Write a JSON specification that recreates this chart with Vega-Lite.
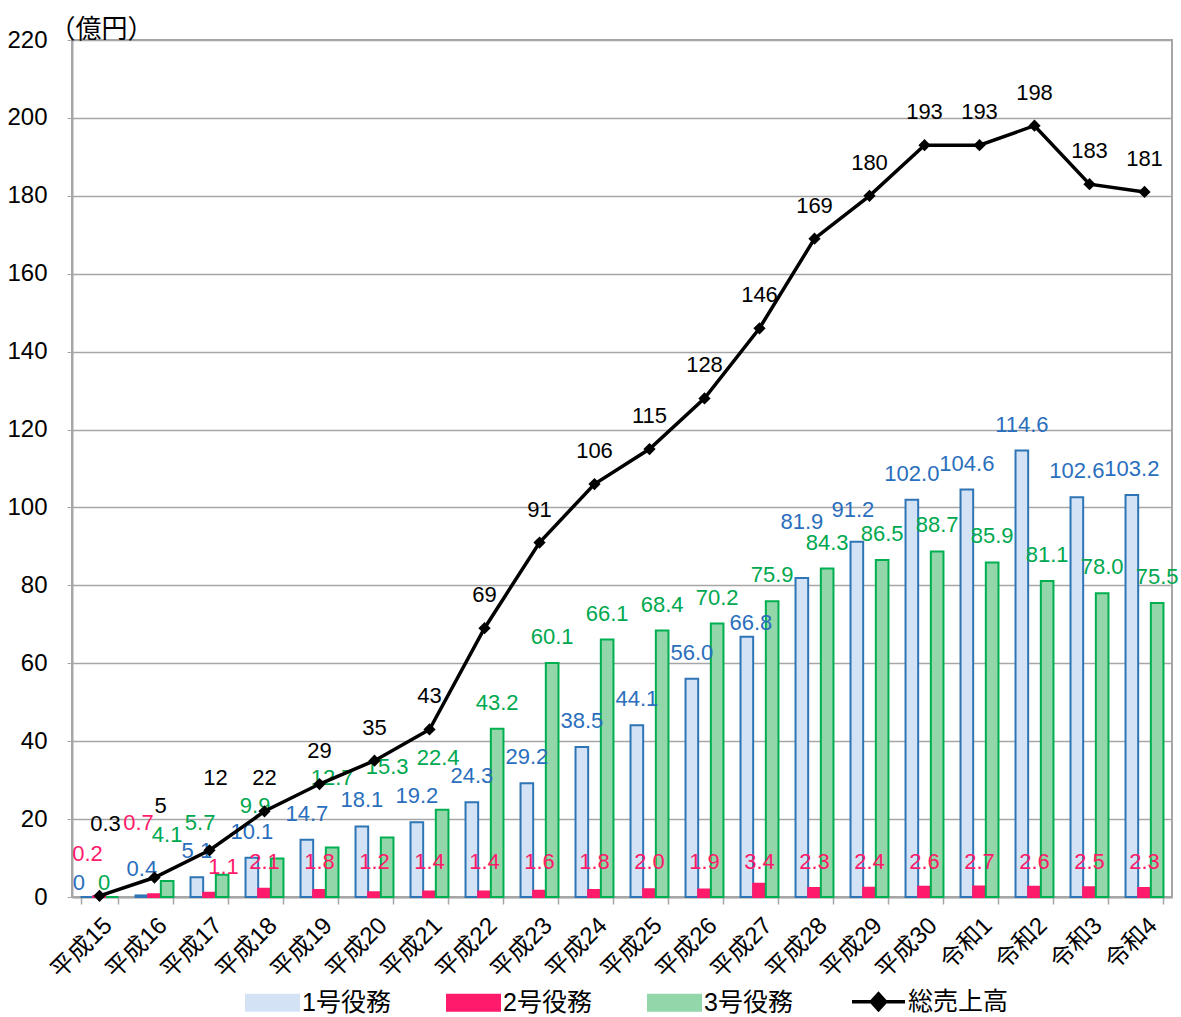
{
  "$schema": "https://vega.github.io/schema/vega-lite/v6.json",
  "width": 1100,
  "height": 857,
  "autosize": {"type": "none"},
  "padding": {"left": 72, "top": 40, "right": 9, "bottom": 120},
  "background": "white",
  "config": {
    "view": {"stroke": "#a6a6a6", "strokeWidth": 2},
    "font": "Liberation Sans, Noto Sans CJK JP",
    "text": {"fontSize": 22}
  },
  "datasets": {
    "bars": [
      {"year": "平成15", "series": "1号役務", "v": 0},
      {"year": "平成16", "series": "1号役務", "v": 0.4},
      {"year": "平成17", "series": "1号役務", "v": 5.1},
      {"year": "平成18", "series": "1号役務", "v": 10.1},
      {"year": "平成19", "series": "1号役務", "v": 14.7},
      {"year": "平成20", "series": "1号役務", "v": 18.1},
      {"year": "平成21", "series": "1号役務", "v": 19.2},
      {"year": "平成22", "series": "1号役務", "v": 24.3},
      {"year": "平成23", "series": "1号役務", "v": 29.2},
      {"year": "平成24", "series": "1号役務", "v": 38.5},
      {"year": "平成25", "series": "1号役務", "v": 44.1},
      {"year": "平成26", "series": "1号役務", "v": 56.0},
      {"year": "平成27", "series": "1号役務", "v": 66.8},
      {"year": "平成28", "series": "1号役務", "v": 81.9},
      {"year": "平成29", "series": "1号役務", "v": 91.2},
      {"year": "平成30", "series": "1号役務", "v": 102.0},
      {"year": "令和1", "series": "1号役務", "v": 104.6},
      {"year": "令和2", "series": "1号役務", "v": 114.6},
      {"year": "令和3", "series": "1号役務", "v": 102.6},
      {"year": "令和4", "series": "1号役務", "v": 103.2},
      {"year": "平成15", "series": "2号役務", "v": 0.2},
      {"year": "平成16", "series": "2号役務", "v": 0.7},
      {"year": "平成17", "series": "2号役務", "v": 1.1},
      {"year": "平成18", "series": "2号役務", "v": 2.1},
      {"year": "平成19", "series": "2号役務", "v": 1.8},
      {"year": "平成20", "series": "2号役務", "v": 1.2},
      {"year": "平成21", "series": "2号役務", "v": 1.4},
      {"year": "平成22", "series": "2号役務", "v": 1.4},
      {"year": "平成23", "series": "2号役務", "v": 1.6},
      {"year": "平成24", "series": "2号役務", "v": 1.8},
      {"year": "平成25", "series": "2号役務", "v": 2.0},
      {"year": "平成26", "series": "2号役務", "v": 1.9},
      {"year": "平成27", "series": "2号役務", "v": 3.4},
      {"year": "平成28", "series": "2号役務", "v": 2.3},
      {"year": "平成29", "series": "2号役務", "v": 2.4},
      {"year": "平成30", "series": "2号役務", "v": 2.6},
      {"year": "令和1", "series": "2号役務", "v": 2.7},
      {"year": "令和2", "series": "2号役務", "v": 2.6},
      {"year": "令和3", "series": "2号役務", "v": 2.5},
      {"year": "令和4", "series": "2号役務", "v": 2.3},
      {"year": "平成15", "series": "3号役務", "v": 0},
      {"year": "平成16", "series": "3号役務", "v": 4.1},
      {"year": "平成17", "series": "3号役務", "v": 5.7},
      {"year": "平成18", "series": "3号役務", "v": 9.9},
      {"year": "平成19", "series": "3号役務", "v": 12.7},
      {"year": "平成20", "series": "3号役務", "v": 15.3},
      {"year": "平成21", "series": "3号役務", "v": 22.4},
      {"year": "平成22", "series": "3号役務", "v": 43.2},
      {"year": "平成23", "series": "3号役務", "v": 60.1},
      {"year": "平成24", "series": "3号役務", "v": 66.1},
      {"year": "平成25", "series": "3号役務", "v": 68.4},
      {"year": "平成26", "series": "3号役務", "v": 70.2},
      {"year": "平成27", "series": "3号役務", "v": 75.9},
      {"year": "平成28", "series": "3号役務", "v": 84.3},
      {"year": "平成29", "series": "3号役務", "v": 86.5},
      {"year": "平成30", "series": "3号役務", "v": 88.7},
      {"year": "令和1", "series": "3号役務", "v": 85.9},
      {"year": "令和2", "series": "3号役務", "v": 81.1},
      {"year": "令和3", "series": "3号役務", "v": 78.0},
      {"year": "令和4", "series": "3号役務", "v": 75.5}
    ],
    "total": [
      {"year": "平成15", "total": 0.3},
      {"year": "平成16", "total": 5},
      {"year": "平成17", "total": 12},
      {"year": "平成18", "total": 22},
      {"year": "平成19", "total": 29},
      {"year": "平成20", "total": 35},
      {"year": "平成21", "total": 43},
      {"year": "平成22", "total": 69},
      {"year": "平成23", "total": 91},
      {"year": "平成24", "total": 106},
      {"year": "平成25", "total": 115},
      {"year": "平成26", "total": 128},
      {"year": "平成27", "total": 146},
      {"year": "平成28", "total": 169},
      {"year": "平成29", "total": 180},
      {"year": "平成30", "total": 193},
      {"year": "令和1", "total": 193},
      {"year": "令和2", "total": 198},
      {"year": "令和3", "total": 183},
      {"year": "令和4", "total": 181}
    ]
  },
  "encoding": {
    "x": {
      "field": "year", "type": "nominal", "sort": null,
      "scale": {"paddingInner": 0.31, "paddingOuter": 0.155},
      "axis": {
        "title": null, "labelAngle": -45, "labelFontSize": 24, "labelColor": "black",
        "tickBand": "extent", "tickSize": 7, "tickColor": "#a6a6a6", "tickWidth": 1.5,
        "domainColor": "#a6a6a6", "domainWidth": 2, "labelPadding": 9,
        "labelFont": "Liberation Sans, Noto Sans CJK JP"
      }
    }
  },
  "layer": [
    {
      "data": {"name": "bars"},
      "mark": {"type": "bar", "strokeWidth": 2},
      "encoding": {
        "xOffset": {"field": "series", "type": "nominal", "scale": {"domain": ["1号役務", "2号役務", "3号役務"], "paddingInner": 0, "paddingOuter": 0}},
        "y": {
          "field": "v", "type": "quantitative",
          "scale": {"domain": [0, 220], "nice": false},
          "axis": {
            "values": [0, 20, 40, 60, 80, 100, 120, 140, 160, 180, 200, 220],
            "grid": true, "gridColor": "#a6a6a6", "gridWidth": 1.5,
            "domainColor": "#a6a6a6", "domainWidth": 2, "tickColor": "#a6a6a6", "tickSize": 5,
            "labelFontSize": 24, "labelColor": "black", "labelPadding": 20,
            "labelFont": "Liberation Sans",
            "title": "（億円）", "titleAngle": 0, "titleAlign": "left", "titleBaseline": "alphabetic",
            "titleX": -23, "titleY": -3, "titleFont": "Noto Sans CJK JP", "titleFontSize": 26,
            "titleFontWeight": "normal", "titleColor": "black"
          }
        },
        "color": {
          "field": "series", "type": "nominal",
          "scale": {"domain": ["1号役務", "2号役務", "3号役務", "総売上高"], "range": ["#d3e3f5", "#ff1a6b", "#93d6aa", "#000000"]},
          "legend": {
            "orient": "none", "legendX": 188, "legendY": 949, "direction": "horizontal", "title": null,
            "padding": 0, "symbolSize": 2809, "labelFontSize": 25, "labelColor": "black",
            "labelFont": "Liberation Sans, Noto Sans CJK JP",
            "columnPadding": 52, "labelOffset": 17, "symbolStrokeWidth": 2,
            "encode": {
              "symbols": {
                "update": {
                  "shape": {"signal": "datum.value === '総売上高' ? 'M-1,0L1,0M-0.27,0L0,-0.3L0.27,0L0,0.3Z' : 'M-1,-0.3L1,-0.3L1,0.3L-1,0.3Z'"},
                  "stroke": {"signal": "datum.value === '1号役務' ? '#2e75b6' : datum.value === '2号役務' ? '#ff1a6b' : datum.value === '3号役務' ? '#00b050' : '#000000'"},
                  "strokeWidth": {"signal": "datum.value === '総売上高' ? 3.5 : 2"}
                }
              }
            }
          }
        },
        "stroke": {
          "field": "series", "type": "nominal",
          "scale": {"domain": ["1号役務", "2号役務", "3号役務"], "range": ["#2e75b6", "#ff1a6b", "#00b050"]},
          "legend": null
        }
      }
    },
    {
      "data": {"name": "bars"},
      "transform": [
        {"filter": "datum.series !== '2号役務' && datum.year !== '平成15'"},
        {"filter": "!(datum.series === '3号役務' && indexof(['平成16','平成17','平成18','平成19','平成20','平成21'], datum.year) >= 0)"},
        {"filter": "!(datum.series === '1号役務' && indexof(['平成27','平成28','平成29'], datum.year) >= 0)"},
        {"calculate": "format(datum.v, '.1f')", "as": "lab"}
      ],
      "mark": {"type": "text", "baseline": "middle", "dy": -26},
      "encoding": {
        "xOffset": {"field": "series", "type": "nominal"},
        "y": {"field": "v", "type": "quantitative"},
        "text": {"field": "lab", "type": "nominal"},
        "fill": {"field": "series", "type": "nominal", "scale": {"domain": ["1号役務", "2号役務", "3号役務"], "range": ["#2a6fbd", "#ff1a6b", "#00a84f"]}, "legend": null}
      }
    },
    {
      "data": {"name": "bars"},
      "transform": [
        {"filter": "datum.series === '1号役務' && datum.year === '平成28'"},
        {"calculate": "format(datum.v, '.1f')", "as": "lab"}
      ],
      "mark": {"type": "text", "baseline": "middle", "dy": -56},
      "encoding": {
        "xOffset": {"field": "series", "type": "nominal"},
        "y": {"field": "v", "type": "quantitative"},
        "text": {"field": "lab", "type": "nominal"},
        "fill": {"field": "series", "type": "nominal", "legend": null}
      }
    },
    {
      "data": {"name": "bars"},
      "transform": [
        {"filter": "datum.series === '1号役務' && datum.year === '平成29'"},
        {"calculate": "format(datum.v, '.1f')", "as": "lab"}
      ],
      "mark": {"type": "text", "baseline": "middle", "dy": -32, "dx": -4},
      "encoding": {
        "xOffset": {"field": "series", "type": "nominal"},
        "y": {"field": "v", "type": "quantitative"},
        "text": {"field": "lab", "type": "nominal"},
        "fill": {"field": "series", "type": "nominal", "legend": null}
      }
    },
    {
      "data": {"name": "bars"},
      "transform": [
        {"filter": "datum.series === '1号役務' && datum.year === '平成27'"},
        {"calculate": "format(datum.v, '.1f')", "as": "lab"}
      ],
      "mark": {"type": "text", "baseline": "middle", "dy": -14, "dx": 4},
      "encoding": {
        "xOffset": {"field": "series", "type": "nominal"},
        "y": {"field": "v", "type": "quantitative"},
        "text": {"field": "lab", "type": "nominal"},
        "fill": {"field": "series", "type": "nominal", "legend": null}
      }
    },
    {
      "data": {"name": "bars"},
      "transform": [
        {"filter": "datum.series !== '2号役務' && datum.year === '平成15'"},
        {"calculate": "format(datum.v, '')", "as": "lab"}
      ],
      "mark": {"type": "text", "baseline": "middle", "dy": -14, "dx": -8},
      "encoding": {
        "xOffset": {"field": "series", "type": "nominal"},
        "y": {"field": "v", "type": "quantitative"},
        "text": {"field": "lab", "type": "nominal"},
        "fill": {"field": "series", "type": "nominal", "legend": null}
      }
    },
    {
      "data": {"name": "bars"},
      "transform": [
        {"filter": "datum.series === '3号役務' && datum.year === '平成16'"},
        {"calculate": "format(datum.v, '.1f')", "as": "lab"}
      ],
      "mark": {"type": "text", "baseline": "middle", "dy": -46},
      "encoding": {
        "xOffset": {"field": "series", "type": "nominal"},
        "y": {"field": "v", "type": "quantitative"},
        "text": {"field": "lab", "type": "nominal"},
        "fill": {"field": "series", "type": "nominal", "legend": null}
      }
    },
    {
      "data": {"name": "bars"},
      "transform": [
        {"filter": "datum.series === '3号役務' && datum.year === '平成21'"},
        {"calculate": "format(datum.v, '.1f')", "as": "lab"}
      ],
      "mark": {"type": "text", "baseline": "middle", "dy": -52, "dx": -4},
      "encoding": {
        "xOffset": {"field": "series", "type": "nominal"},
        "y": {"field": "v", "type": "quantitative"},
        "text": {"field": "lab", "type": "nominal"},
        "fill": {"field": "series", "type": "nominal", "legend": null}
      }
    },
    {
      "data": {"name": "bars"},
      "transform": [
        {"filter": "datum.series === '3号役務' && indexof(['平成17','平成18'], datum.year) >= 0"},
        {"calculate": "format(datum.v, '.1f')", "as": "lab"}
      ],
      "mark": {"type": "text", "baseline": "middle", "dy": -52, "dx": -22},
      "encoding": {
        "xOffset": {"field": "series", "type": "nominal"},
        "y": {"field": "v", "type": "quantitative"},
        "text": {"field": "lab", "type": "nominal"},
        "fill": {"field": "series", "type": "nominal", "legend": null}
      }
    },
    {
      "data": {"name": "bars"},
      "transform": [
        {"filter": "datum.series === '3号役務' && indexof(['平成19','平成20'], datum.year) >= 0"},
        {"calculate": "format(datum.v, '.1f')", "as": "lab"}
      ],
      "mark": {"type": "text", "baseline": "middle", "dy": -70},
      "encoding": {
        "xOffset": {"field": "series", "type": "nominal"},
        "y": {"field": "v", "type": "quantitative"},
        "text": {"field": "lab", "type": "nominal"},
        "fill": {"field": "series", "type": "nominal", "legend": null}
      }
    },
    {
      "data": {"name": "bars"},
      "transform": [
        {"filter": "datum.series === '2号役務' && indexof(['平成15','平成16','平成17'], datum.year) < 0"},
        {"calculate": "format(datum.v, '.1f')", "as": "lab"}
      ],
      "mark": {"type": "text", "baseline": "middle"},
      "encoding": {
        "xOffset": {"field": "series", "type": "nominal"},
        "y": {"datum": 9, "type": "quantitative"},
        "text": {"field": "lab", "type": "nominal"},
        "fill": {"field": "series", "type": "nominal", "legend": null}
      }
    },
    {
      "data": {"name": "bars"},
      "transform": [
        {"filter": "datum.series === '2号役務' && datum.year === '平成15'"},
        {"calculate": "format(datum.v, '.1f')", "as": "lab"}
      ],
      "mark": {"type": "text", "baseline": "middle", "dx": -12},
      "encoding": {
        "xOffset": {"field": "series", "type": "nominal"},
        "y": {"datum": 11, "type": "quantitative"},
        "text": {"field": "lab", "type": "nominal"},
        "fill": {"field": "series", "type": "nominal", "legend": null}
      }
    },
    {
      "data": {"name": "bars"},
      "transform": [
        {"filter": "datum.series === '2号役務' && datum.year === '平成16'"},
        {"calculate": "format(datum.v, '.1f')", "as": "lab"}
      ],
      "mark": {"type": "text", "baseline": "middle", "dx": -16},
      "encoding": {
        "xOffset": {"field": "series", "type": "nominal"},
        "y": {"datum": 19, "type": "quantitative"},
        "text": {"field": "lab", "type": "nominal"},
        "fill": {"field": "series", "type": "nominal", "legend": null}
      }
    },
    {
      "data": {"name": "bars"},
      "transform": [
        {"filter": "datum.series === '2号役務' && datum.year === '平成17'"},
        {"calculate": "format(datum.v, '.1f')", "as": "lab"}
      ],
      "mark": {"type": "text", "baseline": "middle", "dx": 14},
      "encoding": {
        "xOffset": {"field": "series", "type": "nominal"},
        "y": {"datum": 7.6, "type": "quantitative"},
        "text": {"field": "lab", "type": "nominal"},
        "fill": {"field": "series", "type": "nominal", "legend": null}
      }
    },
    {
      "data": {"name": "total"},
      "mark": {"type": "line", "strokeWidth": 3.5, "point": {"shape": "diamond", "size": 150, "filled": true}},
      "encoding": {
        "y": {"field": "total", "type": "quantitative"},
        "color": {"datum": "総売上高"}
      }
    },
    {
      "data": {"name": "total"},
      "transform": [{"filter": "indexof(['平成15','平成16','平成17'], datum.year) < 0"}],
      "mark": {"type": "text", "baseline": "middle", "dy": -33, "color": "black"},
      "encoding": {
        "y": {"field": "total", "type": "quantitative"},
        "text": {"field": "total", "type": "nominal"}
      }
    },
    {
      "data": {"name": "total"},
      "transform": [{"filter": "indexof(['平成15','平成16','平成17'], datum.year) >= 0"}],
      "mark": {"type": "text", "baseline": "middle", "dy": -72, "dx": 6, "color": "black"},
      "encoding": {
        "y": {"field": "total", "type": "quantitative"},
        "text": {"field": "total", "type": "nominal"}
      }
    }
  ]
}
